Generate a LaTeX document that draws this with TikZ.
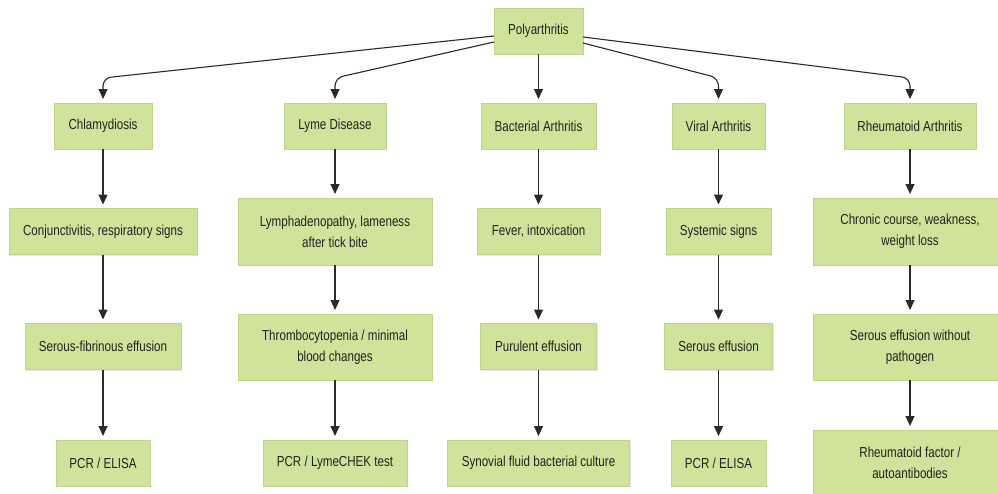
\documentclass[tikz,border=0pt]{standalone}
\usepackage{fontspec}
\newfontfamily\boxfont{Liberation Sans}[FakeStretch=0.8]
\usetikzlibrary{arrows.meta,shadows}
\definecolor{boxfill}{HTML}{D0E39A}
\definecolor{boxline}{HTML}{BDD58A}
\definecolor{txt}{HTML}{222222}
\definecolor{edge}{HTML}{2A2A2A}
\begin{document}
\begin{tikzpicture}[x=1pt,y=-1pt,
  box/.style={draw=boxline, line width=0.6pt, fill=boxfill, text=txt,
    font=\boxfont\fontsize{14.5}{20.7}\selectfont, align=center,
    inner sep=0pt, outer sep=0pt,
    drop shadow={opacity=0.15, shadow xshift=1.2pt, shadow yshift=-1.2pt, fill=black!60}},
  arr/.style={draw=edge, line width=1.1pt, shorten >=4pt,
    -{Triangle[width=9pt,length=10pt]}},
  elbowarr/.style={arr, rounded corners=8pt}]
\useasboundingbox (0,0) rectangle (998,493);
\fill[white] (0,0) rectangle (998,493);
\clip (0,0) rectangle (998,493);

% root
\node[box, minimum width=89pt, minimum height=46pt] (root) at (538.5,31) {Polyarthritis};

% row 2
\node[box, minimum width=98pt, minimum height=46pt] (chl) at (103,126) {Chlamydiosis};
\node[box, minimum width=102pt, minimum height=46pt] (lyme) at (335,126) {Lyme Disease};
\node[box, minimum width=115pt, minimum height=46pt] (bact) at (538.5,126) {Bacterial Arthritis};
\node[box, minimum width=93pt, minimum height=46pt] (viral) at (718.5,126) {Viral Arthritis};
\node[box, minimum width=132pt, minimum height=46pt] (rheum) at (910,126) {Rheumatoid Arthritis};

% row 3
\node[box, minimum width=188pt, minimum height=46pt] (conj) at (103,231.5) {Conjunctivitis, respiratory signs};
\node[box, minimum width=194pt, minimum height=67pt] (lymph) at (335,231.5) {Lymphadenopathy, lameness\\after tick bite};
\node[box, minimum width=123pt, minimum height=46pt] (fever) at (538.5,231.5) {Fever, intoxication};
\node[box, minimum width=105pt, minimum height=46pt] (sys) at (718.5,231.5) {Systemic signs};
\node[box, minimum width=194pt, minimum height=67pt] (chron) at (910,231.5) {Chronic course, weakness,\\weight loss};

% row 4
\node[box, minimum width=156pt, minimum height=46pt] (sfe) at (103,346.5) {Serous-fibrinous effusion};
\node[box, minimum width=194pt, minimum height=66pt] (thromb) at (335,347) {Thrombocytopenia / minimal\\blood changes};
\node[box, minimum width=116pt, minimum height=46pt] (pur) at (538.5,346.5) {Purulent effusion};
\node[box, minimum width=108pt, minimum height=46pt] (ser) at (718.5,346.5) {Serous effusion};
\node[box, minimum width=194pt, minimum height=66pt] (sewp) at (910,347) {Serous effusion without\\pathogen};

% row 5
\node[box, minimum width=94pt, minimum height=46pt] (pcra) at (103,463) {PCR / ELISA};
\node[box, minimum width=144pt, minimum height=46pt] (pcrl) at (335,463) {PCR / LymeCHEK test};
\node[box, minimum width=182pt, minimum height=46pt] (syn) at (538.5,463) {Synovial fluid bacterial culture};
\node[box, minimum width=95pt, minimum height=46pt] (pcrb) at (718.5,463) {PCR / ELISA};
\node[box, minimum width=194pt, minimum height=66pt] (rf) at (910,463) {Rheumatoid factor /\\autoantibodies};

% root connectors
\draw[elbowarr] ([yshift=-5pt]root.west) -- ([yshift=25pt]chl.north) -- (chl.north);
\draw[elbowarr] ([yshift=-11pt]root.west) -- ([yshift=25pt]lyme.north) -- (lyme.north);
\draw[arr] (root.south) -- (bact.north);
\draw[elbowarr] ([yshift=-12pt]root.east) -- ([yshift=25pt]viral.north) -- (viral.north);
\draw[elbowarr] ([yshift=-6pt]root.east) -- ([yshift=25pt]rheum.north) -- (rheum.north);

% columns
\draw[arr] (chl.south) -- (conj.north);
\draw[arr] (conj.south) -- (sfe.north);
\draw[arr] (sfe.south) -- (pcra.north);

\draw[arr] (lyme.south) -- (lymph.north);
\draw[arr] (lymph.south) -- (thromb.north);
\draw[arr] (thromb.south) -- (pcrl.north);

\draw[arr] (bact.south) -- (fever.north);
\draw[arr] (fever.south) -- (pur.north);
\draw[arr] (pur.south) -- (syn.north);

\draw[arr] (viral.south) -- (sys.north);
\draw[arr] (sys.south) -- (ser.north);
\draw[arr] (ser.south) -- (pcrb.north);

\draw[arr] (rheum.south) -- (chron.north);
\draw[arr] (chron.south) -- (sewp.north);
\draw[arr] (sewp.south) -- (rf.north);
\end{tikzpicture}
\end{document}
